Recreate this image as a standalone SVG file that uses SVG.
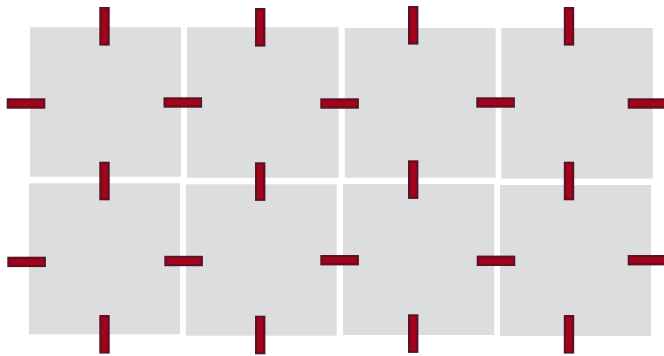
<svg xmlns="http://www.w3.org/2000/svg" width="664" height="356" viewBox="0 0 664 356">
<style>
.sq{fill:#dcdddf}
.v,.h{fill:#a3031b;stroke:#5e1122;stroke-width:2.2}
</style>
<rect width="664" height="356" fill="#ffffff"/>
<g id="squares">
<rect class="sq" x="30" y="27.3" width="151" height="149.4"/>
<rect class="sq" x="187" y="27.3" width="151.5" height="150.5"/>
<rect class="sq" x="344.8" y="28" width="150.9" height="149.7"/>
<rect class="sq" x="501.3" y="28" width="151.4" height="150.5"/>
<rect class="sq" x="29" y="183.3" width="151" height="151"/>
<rect class="sq" x="186" y="184.3" width="150.7" height="151.4"/>
<rect class="sq" x="343" y="184" width="151.3" height="151"/>
<rect class="sq" x="500" y="185" width="151" height="151"/>
</g>
<g id="bars">
<rect class="v" x="100.4" y="8.1" width="8.2" height="36.4"/>
<rect class="v" x="100.4" y="162.8" width="8.2" height="36.4"/>
<rect class="v" x="100.4" y="316.1" width="8.2" height="36.4"/>
<rect class="v" x="256.1" y="9.1" width="8.2" height="36.4"/>
<rect class="v" x="256.1" y="163.4" width="8.2" height="36.4"/>
<rect class="v" x="256.1" y="316.8" width="8.2" height="36.4"/>
<rect class="v" x="409.1" y="7.1" width="8.2" height="36.4"/>
<rect class="v" x="409.1" y="161.4" width="8.2" height="36.4"/>
<rect class="v" x="409.1" y="315.4" width="8.2" height="36.4"/>
<rect class="v" x="564.9" y="8.1" width="8.2" height="36.4"/>
<rect class="v" x="564.9" y="162.8" width="8.2" height="36.4"/>
<rect class="v" x="564.9" y="316.1" width="8.2" height="36.4"/>
<rect class="h" x="7.8" y="99.4" width="36.4" height="8.2"/>
<rect class="h" x="164.6" y="98.4" width="36.4" height="8.2"/>
<rect class="h" x="321.4" y="99.4" width="36.4" height="8.2"/>
<rect class="h" x="477.4" y="98.4" width="36.4" height="8.2"/>
<rect class="h" x="628.8" y="99.4" width="36.4" height="8.2"/>
<rect class="h" x="8.4" y="257.8" width="36.4" height="8.2"/>
<rect class="h" x="165.4" y="256.9" width="36.4" height="8.2"/>
<rect class="h" x="321.4" y="256.1" width="36.4" height="8.2"/>
<rect class="h" x="477.8" y="256.7" width="36.4" height="8.2"/>
<rect class="h" x="628.8" y="256.1" width="36.4" height="8.2"/>
</g>
</svg>
